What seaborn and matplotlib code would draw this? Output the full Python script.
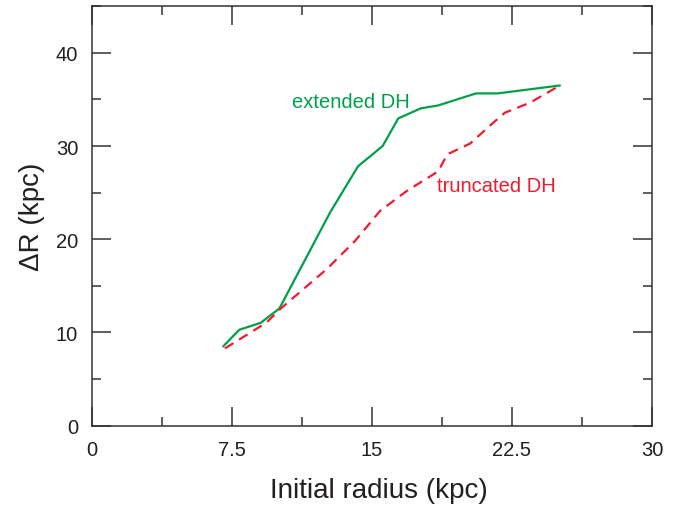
import matplotlib
matplotlib.use("Agg")
import matplotlib.pyplot as plt
import seaborn as sns
import pandas as pd
from matplotlib.ticker import MultipleLocator

# Data
ext_r = [7.03, 7.89, 9.04, 10.04, 12.75, 14.25, 15.57, 16.41, 17.61, 18.55, 20.57, 21.74, 25.07]
ext_dr = [8.51, 10.29, 11.04, 12.58, 22.86, 27.83, 30.0, 32.97, 34.04, 34.36, 35.65, 35.65, 36.5]

trunc_r = [7.12, 9.36, 10.07, 12.57, 14.09, 15.43, 16.86, 18.55, 19.03, 20.25, 21.5, 22.12, 23.46, 25.07]
trunc_dr = [8.29, 11.08, 12.5, 16.79, 19.82, 23.04, 25.18, 27.29, 29.11, 30.26, 32.51, 33.58, 34.65, 36.5]

x_ticks = [0, 7.5, 15, 22.5, 30]
x_tick_labels = ["0", "7.5", "15", "22.5", "30"]
y_ticks = [0, 10, 20, 30, 40]

GREEN = "#00A04A"
RED = "#EE1C2E"
TXT = "#231F20"

sns.set_style("white")
plt.rcParams['font.family'] = ['Liberation Sans', 'DejaVu Sans']

df_ext = pd.DataFrame({"r": ext_r, "dr": ext_dr})
df_tr = pd.DataFrame({"r": trunc_r, "dr": trunc_dr})

fig = plt.figure(figsize=(6.8, 5.06), dpi=100)
ax = fig.add_axes([0.1353, 0.1567, 0.8235, 0.829])

sns.lineplot(data=df_ext, x="r", y="dr", ax=ax, color=GREEN, lw=1.6, sort=False, estimator=None)
sns.lineplot(data=df_tr, x="r", y="dr", ax=ax, color=RED, lw=1.6, sort=False, estimator=None,
             dashes=False, linestyle=(0, (4.5, 3)))

ax.set_xlim(0, 30)
ax.set_ylim(0, 45)
ax.set_xticks(x_ticks)
ax.set_xticklabels(x_tick_labels)
ax.set_yticks(y_ticks)
ax.xaxis.set_minor_locator(MultipleLocator(3.75))
ax.yaxis.set_minor_locator(MultipleLocator(5))

ax.tick_params(which="both", direction="in", top=True, right=True, bottom=True, left=True,
               colors="#333333", labelcolor=TXT, labelsize=14.5, width=1.1)
ax.tick_params(which="major", length=13.5, pad=10)
ax.tick_params(which="minor", length=6.5)

for s in ax.spines.values():
    s.set_visible(True)
    s.set_color("#333333")
    s.set_linewidth(1.1)

ax.set_xlabel("Initial radius (kpc)", fontsize=20, color=TXT, labelpad=14)
ax.set_ylabel("ΔR (kpc)", fontsize=20, color=TXT, labelpad=8)
ax.xaxis.set_label_coords(0.512, -0.1, transform=ax.transAxes)
ax.xaxis.label.set_va("top")
ax.xaxis.set_label_coords(0.5125, -0.122)

ax.text(13.87, 34.8, "extended DH", color=GREEN, fontsize=14.5, ha="center", va="center")
ax.text(18.48, 25.76, "truncated DH", color=RED, fontsize=14.5, ha="left", va="center")

fig.savefig("out.png", dpi=100)
